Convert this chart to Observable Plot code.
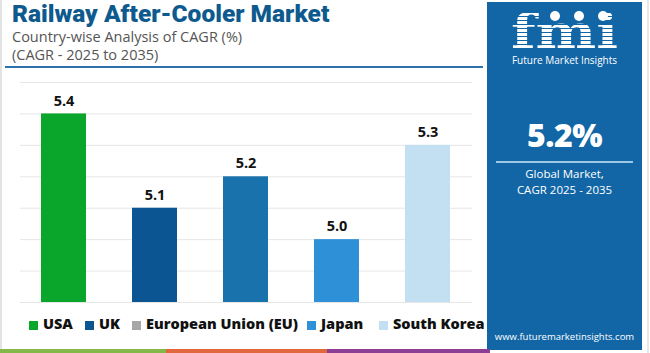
<!DOCTYPE html>
<html>
<head>
<meta charset="utf-8">
<script src="https://cdn.jsdelivr.net/npm/d3@7"></script>
<script src="https://cdn.jsdelivr.net/npm/@observablehq/plot@0.6"></script>
<style>
  html, body { margin: 0; padding: 0; background: #fff; }
  #wrap { position: relative; width: 650px; height: 353px; overflow: hidden; font-family: "Open Sans", sans-serif; background: #fff; }
  .abs { position: absolute; line-height: 1; white-space: nowrap; }
  #title { left: 12px; top: 2px; font-family: Roboto, sans-serif; font-size: 24.5px; font-weight: 900; color: #0e5a8e; }
  .sub { left: 12px; font-size: 14.5px; color: #555; }
  #rule { left: 5px; top: 66px; width: 478px; height: 2px; background: #2c73ad; }
  #chart { left: 0; top: 70px; }
  .lg { top: 317px; font-size: 14.5px; font-weight: 800; color: #111; }
  .sw { top: 321px; width: 9px; height: 9px; }
  #panel { left: 487px; top: 2px; width: 155px; height: 348px; background: #1266a6; color: #fff; }
  .ctr { left: 0; width: 155px; text-align: center; }
  .stripe { top: 349px; height: 4px; }
  #lborder { left: 0; top: 0; width: 2px; height: 353px; background: #e3e3e3; }
  #rborder { left: 647px; top: 0; width: 2px; height: 353px; background: #e8e8e8; }
  #logo { font-family: "DejaVu Serif", serif; font-size: 47px; font-weight: bold; line-height: 0.8; padding-top: 4px;
          transform: scaleX(1.22); transform-origin: 50% 50%;
          background: repeating-linear-gradient(to bottom, #fff 0px, #fff 3px, #1266a6 3px, #1266a6 4px);
          -webkit-background-clip: text; background-clip: text; color: transparent; }
  .dot { width: 10px; height: 10px; border-radius: 50%; background: #fff; top: 9px; }
</style>
</head>
<body>
<div id="wrap">
  <div id="lborder" class="abs"></div>
  <div id="rborder" class="abs"></div>
  <div id="title" class="abs">Railway After-Cooler Market</div>
  <div class="abs sub" style="top:30px">Country-wise Analysis of CAGR (%)</div>
  <div class="abs sub" style="top:48px">(CAGR - 2025 to 2035)</div>
  <div id="rule" class="abs"></div>
  <div id="chart" class="abs"></div>
  <div id="panel" class="abs">
    <div id="logo" class="abs ctr" style="top:7px;">fmi</div>
    <div class="abs dot" style="left:63px"></div>
    <div class="abs dot" style="left:87px"></div>
    <div class="abs dot" style="left:111px"></div>
    <div class="abs ctr" style="top:53px;font-size:10px;">Future Market Insights</div>
    <div class="abs ctr" style="top:117px;font-size:32px;font-weight:800;letter-spacing:-0.5px;">5.2%</div>
    <div class="abs" style="left:9px;width:137px;top:159px;height:2px;background:#9cc8e8;"></div>
    <div class="abs ctr" style="top:166px;font-size:11.5px;">Global Market,</div>
    <div class="abs ctr" style="top:182px;font-size:11.5px;">CAGR 2025 - 2035</div>
    <div class="abs ctr" style="top:330px;font-size:9.5px;">www.futuremarketinsights.com</div>
  </div>
  <div class="abs stripe" style="left:0;width:166px;background:#84b94a"></div>
  <div class="abs stripe" style="left:166px;width:161px;background:#e2673c"></div>
  <div class="abs stripe" style="left:327px;width:163px;background:#8c3d94"></div>
</div>
<script>
const countries = ["USA", "UK", "European Union (EU)", "Japan", "South Korea"];
const cagr = [5.4, 5.1, 5.2, 5.0, 5.3];
const barColors = ["#0aa52b", "#0b5593", "#1a72ad", "#2e91d7", "#c3e0f2"];
const legendColors = ["#0aa52b", "#0b5593", "#a6a6a6", "#2e91d7", "#c3e0f2"];
const yTicks = [4.8, 4.9, 5.0, 5.1, 5.2, 5.3, 5.4, 5.5];
const yDomain = [4.8, 5.5];

const data = countries.map((c, i) => ({country: c, value: cagr[i], color: barColors[i]}));

const plot = Plot.plot({
  width: 490,
  height: 235,
  marginLeft: 20,
  marginRight: 18,
  marginTop: 12,
  marginBottom: 3,
  style: {fontFamily: "Open Sans, sans-serif", background: "transparent"},
  x: {domain: countries, paddingInner: 0.505, paddingOuter: 0.236, axis: null},
  y: {domain: yDomain, axis: null},
  marks: [
    Plot.gridY(yTicks, {stroke: "#e6e6e6", strokeOpacity: 1, strokeWidth: 1}),
    Plot.barY(data, {x: "country", y1: yDomain[0], y2: "value", fill: "color"}),
    Plot.text(data, {x: "country", y: "value", text: d => d.value.toFixed(1), dy: -13, fontSize: 14.5, fontWeight: "bold", fill: "#111"})
  ]
});
document.getElementById("chart").appendChild(plot);

// legend: swatch positions follow the reference layout
const swatchX = [29, 85, 132, 307, 379];
const wrap = document.getElementById("wrap");
countries.forEach((c, i) => {
  const sw = document.createElement("div");
  sw.className = "abs sw";
  sw.style.left = swatchX[i] + "px";
  sw.style.background = legendColors[i];
  wrap.appendChild(sw);
  const t = document.createElement("div");
  t.className = "abs lg";
  t.style.left = (swatchX[i] + 14) + "px";
  t.textContent = c;
  wrap.appendChild(t);
});
</script>
</body>
</html>
